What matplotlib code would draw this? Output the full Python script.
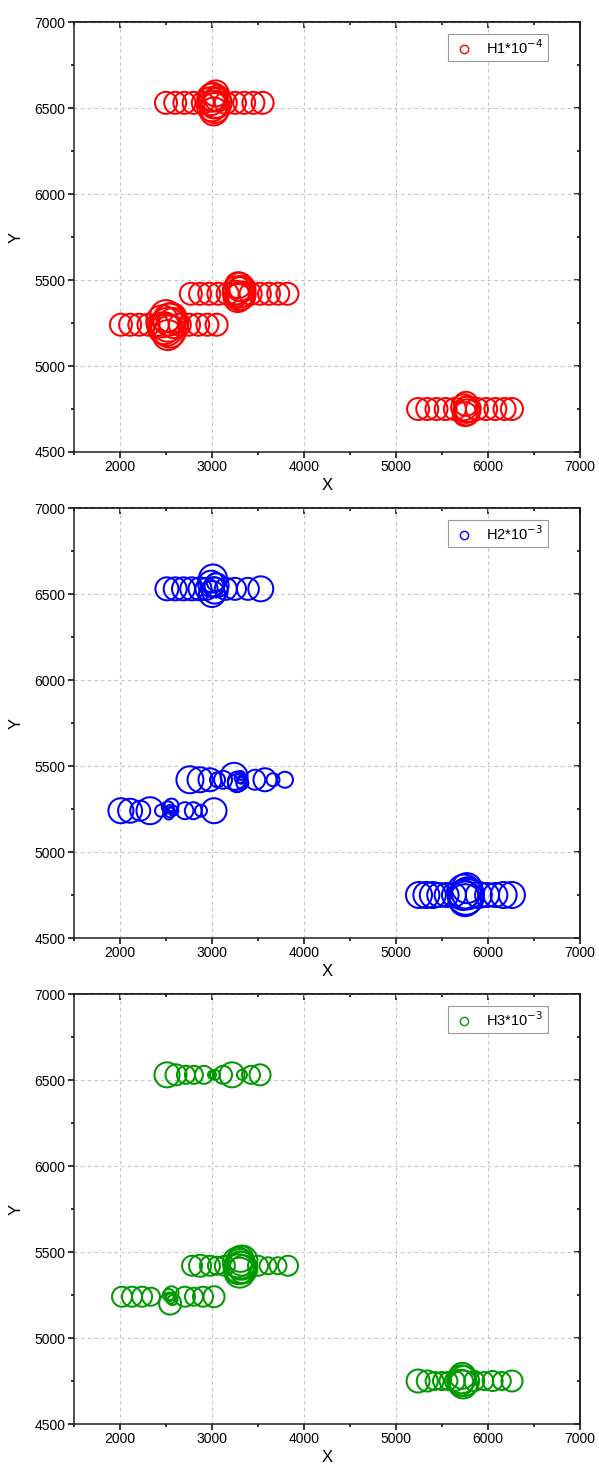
import matplotlib.pyplot as plt
from matplotlib.lines import Line2D
from matplotlib.ticker import MultipleLocator

plt.rcParams['font.family'] = ['Liberation Sans', 'DejaVu Sans']

# bubble data: x, y and circle size (H value, scaled to marker diameter)
h1_x = [2500, 2600, 2700, 2800, 2900, 3150, 3250, 3350, 3450, 3550,
        2990, 3010, 3030, 3050, 3020, 3060, 3000, 3040, 3025, 2995,
        2770, 2870, 2970, 3070, 3170, 3420, 3520, 3620, 3720, 3820,
        3270, 3300, 3320, 3280, 3310, 3260, 3330, 3295, 3285,
        2010, 2110, 2210, 2310, 2410, 2650, 2750, 2850, 2950, 3050,
        2460, 2500, 2540, 2580, 2520, 2480, 2560, 2520, 2505, 2535,
        5240, 5340, 5440, 5540, 5640, 5880, 5980, 6080, 6180, 6260,
        5740, 5770, 5760, 5780, 5750, 5765]
h1_y = [6530] * 10 + [6540, 6565, 6500, 6530, 6480, 6555, 6510, 6585, 6520, 6560] + \
       [5420] * 10 + [5440, 5460, 5410, 5395, 5430, 5420, 5450, 5405, 5470] + \
       [5240] * 10 + [5260, 5290, 5200, 5250, 5180, 5220, 5280, 5240, 5210, 5270] + \
       [4750] * 10 + [4760, 4730, 4780, 4750, 4720, 4745]
h1_s = [22] * 10 + [28, 28, 30, 30, 28, 26, 30, 26, 28, 28] + \
       [22] * 10 + [28, 28, 28, 28, 30, 26, 26, 28, 26] + \
       [22] * 10 + [32, 32, 32, 30, 30, 32, 30, 34, 32, 32] + \
       [22] * 10 + [26, 26, 24, 26, 24, 26]

h2_x = [2510, 2600, 2690, 2780, 2870, 2940, 2990, 3010, 3030, 3050, 3000, 3020, 3040,
        3150, 3250, 3390, 3530,
        2760, 2870, 2978, 3060, 3120, 3240, 3270, 3280, 3300, 3320, 3330, 3310,
        3470, 3576, 3663, 3793,
        2010, 2110, 2220, 2326, 2446, 2520, 2545, 2560, 2540, 2580, 2530,
        2706, 2797, 2880, 3022,
        5250, 5330, 5400, 5470, 5550, 5630, 5740, 5760, 5750, 5770, 5730, 5780, 5755,
        5900, 5990, 6080, 6170, 6260]
h2_y = [6530] * 6 + [6560, 6590, 6520, 6550, 6500, 6540, 6570] + [6530] * 4 + \
       [5420] * 5 + [5440, 5400, 5410, 5430, 5420, 5400, 5445] + [5420] * 4 + \
       [5240] * 5 + [5260, 5230, 5270, 5250, 5240, 5215] + [5240] * 4 + \
       [4750] * 6 + [4770, 4740, 4720, 4790, 4750, 4760, 4730] + [4750] * 5
h2_s = [23, 23, 23, 23, 23, 22, 26, 28, 26, 24, 26, 20, 18, 22, 22, 22, 25,
        27, 25, 23, 15, 18, 27, 18, 20, 10, 8, 12, 9, 20, 23, 13, 16,
        25, 24, 20, 27, 12, 12, 10, 14, 8, 10, 9, 17, 17, 12, 25,
        26, 26, 26, 24, 24, 24, 34, 36, 32, 30, 30, 32, 34, 26, 24, 24, 26, 26]

h3_x = [2511, 2609, 2717, 2804, 2913, 3000, 3033, 3120, 3217, 3326, 3424, 3522,
        2783, 2870, 2978, 3054, 3140,
        3280, 3310, 3330, 3300, 3320, 3290, 3340, 3310, 3305,
        3500, 3609, 3717, 3826,
        2022, 2130, 2240, 2337, 2530, 2550, 2545, 2560, 2540, 2570,
        2706, 2804, 2902, 3022,
        5240, 5340, 5420, 5500, 5570, 5640, 5710, 5730, 5720, 5740, 5700,
        5850, 5960, 6050, 6150, 6261]
h3_y = [6530] * 12 + \
       [5420] * 5 + [5440, 5410, 5450, 5380, 5420, 5400, 5400, 5460, 5430] + [5420] * 4 + \
       [5240] * 4 + [5250, 5230, 5200, 5260, 5240, 5220] + [5240] * 4 + \
       [4750] * 6 + [4760, 4730, 4780, 4750, 4740] + [4750] * 5
h3_s = [25, 21, 18, 18, 18, 8, 10, 18, 25, 10, 18, 21,
        20, 22, 20, 18, 20, 30, 32, 30, 30, 28, 30, 28, 26, 30, 20, 17, 17, 20,
        20, 20, 20, 18, 12, 10, 22, 14, 8, 10, 20, 18, 20, 21,
        23, 21, 18, 18, 18, 20, 28, 28, 26, 30, 26, 20, 18, 20, 18, 21]

panels = [
    (h1_x, h1_y, h1_s, '#ff0000', 'H1*10$^{-4}$'),
    (h2_x, h2_y, h2_s, '#0000ff', 'H2*10$^{-3}$'),
    (h3_x, h3_y, h3_s, '#009900', 'H3*10$^{-3}$'),
]

fig = plt.figure(figsize=(5.99, 14.72), dpi=100)
bottoms = [1 - 452 / 1472, 1 - 938 / 1472, 1 - 1424 / 1472]

for (x, y, s, col, lab), b in zip(panels, bottoms):
    ax = fig.add_axes([74 / 599, b, 506 / 599, 430 / 1472])
    sizes = [(0.72 * v) ** 2 for v in s]
    ax.scatter(x, y, s=sizes, facecolors='none', edgecolors=col, linewidths=1.45, zorder=3)
    ax.set_xlim(1500, 7000)
    ax.set_ylim(4500, 7000)
    ax.xaxis.set_major_locator(MultipleLocator(1000))
    ax.xaxis.set_minor_locator(MultipleLocator(500))
    ax.yaxis.set_major_locator(MultipleLocator(500))
    ax.yaxis.set_minor_locator(MultipleLocator(250))
    ax.grid(True, which='major', ls=(0, (3, 3)), color='#c4c4c4', lw=0.8)
    ax.tick_params(which='major', direction='out', length=4, width=1.1, labelsize=10, pad=2)
    ax.tick_params(which='minor', direction='out', length=2.5, width=1.1)
    for sp in ax.spines.values():
        sp.set_linewidth(1.1)
        sp.set_color('#222222')
    # inward ticks on top and right, as in the original
    top = ax.secondary_xaxis('top')
    top.xaxis.set_major_locator(MultipleLocator(1000))
    top.xaxis.set_minor_locator(MultipleLocator(500))
    top.tick_params(which='major', direction='in', length=4, width=1.1, labeltop=False)
    top.tick_params(which='minor', direction='in', length=2.5, width=1.1)
    right = ax.secondary_yaxis('right')
    right.yaxis.set_major_locator(MultipleLocator(500))
    right.yaxis.set_minor_locator(MultipleLocator(250))
    right.tick_params(which='major', direction='in', length=4, width=1.1, labelright=False)
    right.tick_params(which='minor', direction='in', length=2.5, width=1.1)
    top.spines['top'].set_linewidth(1.1)
    right.spines['right'].set_linewidth(1.1)

    ax.set_xlabel('X', fontsize=12, labelpad=3)
    ax.set_ylabel('Y', fontsize=12, labelpad=8)

    h = Line2D([], [], marker='o', ls='', mfc='none', mec=col, ms=6, mew=1)
    leg = ax.legend([h], [lab], loc='upper left', bbox_to_anchor=(0.74, 0.972),
                    frameon=True, fancybox=False, framealpha=1, edgecolor='#999999',
                    fontsize=10.5, handletextpad=0.7, borderpad=0.3, handlelength=1.6,
                    borderaxespad=0)
    leg.get_frame().set_linewidth(0.8)

plt.savefig('out.png', dpi=100)
